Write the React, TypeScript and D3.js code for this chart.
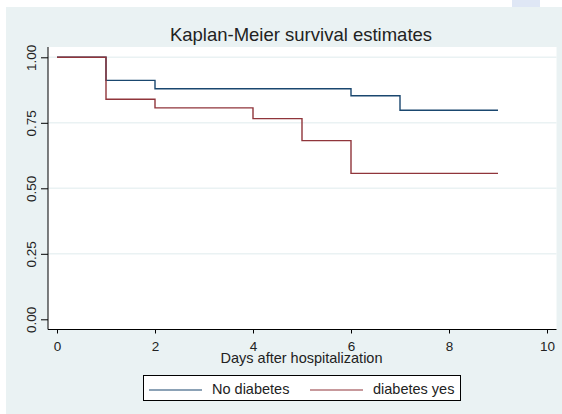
import * as d3 from "d3";
import { useEffect, useRef } from "react";

// survival data
const noDiabetesDays = [0, 1, 2, 6, 7, 9];
const noDiabetesSurv = [1, 0.912, 0.88, 0.853, 0.798, 0.798];
const diabetesDays = [0, 1, 2, 4, 5, 6, 9];
const diabetesSurv = [1, 0.84, 0.807, 0.766, 0.682, 0.557, 0.557];

const xTicks = [0, 2, 4, 6, 8, 10];
const yTicks = [0, 0.25, 0.5, 0.75, 1];
const seriesNames = ["No diabetes", "diabetes yes"];
const seriesColors = ["#1a476f", "#90353b"];

const App = () => {
    const ref = useRef<SVGSVGElement>(null);

    const width = 562;
    const height = 414;
    const font = "'Liberation Sans', Arial, sans-serif";

    useEffect(() => {
        const svg = d3.select(ref.current);
        svg.selectAll("*").remove();

        // background
        svg.append("rect").attr("x", 6).attr("y", 7).attr("width", width - 6).attr("height", height - 7).attr("fill", "#eaf2f3");
        svg.append("rect").attr("x", 512).attr("y", 0).attr("width", 28).attr("height", 7).attr("fill", "#dfe7f5");

        // plot region
        const plot = { left: 48, top: 47, right: 556.5, bottom: 329.5 };
        svg.append("rect")
            .attr("x", plot.left).attr("y", plot.top)
            .attr("width", plot.right - plot.left).attr("height", plot.bottom - plot.top)
            .attr("fill", "#fff");

        const x = d3.scaleLinear().domain([0, 10]).range([57, 547]);
        const y = d3.scaleLinear().domain([0, 1]).range([319.3, 57.3]);

        // gridlines
        svg.append("g").selectAll("line")
            .data(yTicks.filter(d => d > 0))
            .enter().append("line")
            .attr("x1", plot.left).attr("x2", plot.right)
            .attr("y1", d => y(d)).attr("y2", d => y(d))
            .attr("stroke", "#eaf2f3").attr("stroke-width", 1.5);

        // axes
        const gx = svg.append("g").attr("transform", `translate(0,${plot.bottom})`);
        gx.call(d3.axisBottom(x).tickValues(xTicks).tickFormat(d3.format("d")).tickSize(4).tickPadding(8).tickSizeOuter(0));
        gx.select(".domain").attr("d", `M${plot.left},0H${plot.right}`);
        gx.selectAll("text").attr("font-family", font).attr("font-size", 13.5).attr("fill", "#222");

        const gy = svg.append("g").attr("transform", `translate(${plot.left},0)`);
        gy.call(d3.axisLeft(y).tickValues(yTicks).tickFormat(d3.format(".2f")).tickSize(7).tickSizeOuter(0));
        gy.select(".domain").attr("d", `M0,${plot.top}V${plot.bottom}`);
        gy.selectAll(".tick text")
            .attr("font-family", font).attr("font-size", 13.5).attr("fill", "#222")
            .attr("x", null).attr("dy", null)
            .attr("text-anchor", "middle")
            .attr("transform", "translate(-12,0) rotate(-90)");
        svg.selectAll(".domain, .tick line").attr("stroke", "#000");

        // curves
        const line = d3.line<[number, number]>()
            .x(d => x(d[0])).y(d => y(d[1]))
            .curve(d3.curveStepAfter);
        const series = [
            d3.zip(noDiabetesDays, noDiabetesSurv) as [number, number][],
            d3.zip(diabetesDays, diabetesSurv) as [number, number][],
        ];
        series.forEach((s, i) => {
            svg.append("path").attr("d", line(s))
                .attr("fill", "none").attr("stroke", seriesColors[i]).attr("stroke-width", 1.4);
        });

        // title and axis label
        svg.append("text").attr("x", 301).attr("y", 41).attr("text-anchor", "middle")
            .attr("font-family", font).attr("font-size", 18.5).attr("fill", "#222")
            .text("Kaplan-Meier survival estimates");
        svg.append("text").attr("x", 301.5).attr("y", 363).attr("text-anchor", "middle")
            .attr("font-family", font).attr("font-size", 14.5).attr("fill", "#222")
            .text("Days after hospitalization");

        // legend
        const lg = svg.append("g");
        lg.append("rect").attr("x", 143.5).attr("y", 375.5).attr("width", 317).attr("height", 25)
            .attr("fill", "#fff").attr("stroke", "#000");
        const lx = [149, 310];
        seriesNames.forEach((name, i) => {
            lg.append("line").attr("x1", lx[i]).attr("x2", lx[i] + 53).attr("y1", 390).attr("y2", 390)
                .attr("stroke", seriesColors[i]).attr("stroke-width", 1.2);
            lg.append("text").attr("x", lx[i] + 63).attr("y", 394)
                .attr("font-family", font).attr("font-size", 14.5).attr("fill", "#222")
                .text(name);
        });
    }, []);

    return (
        <svg ref={ref} width={width} height={height}
            style={{ position: "absolute", left: 0, top: 0, background: "#fff" }}></svg>
    );
};

export default App;
